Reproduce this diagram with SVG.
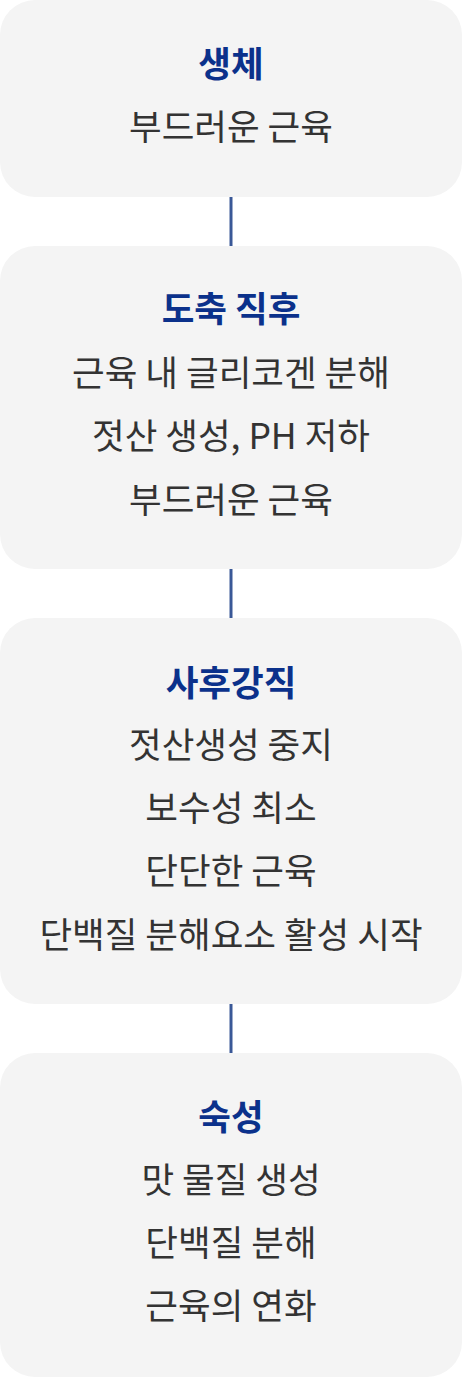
<svg xmlns="http://www.w3.org/2000/svg" width="462" height="1377" viewBox="0 0 462 1377">
<style>
.box{fill:#f4f4f4}
.t{font-family:"Noto Sans CJK KR","Noto Sans",sans-serif;font-size:35.5px;text-anchor:middle}
.h{font-weight:700;fill:#0b318b}
.b{font-weight:400;fill:#333333}
.c{stroke:#3a5897;stroke-width:3;fill:none}
</style>
<rect width="462" height="1377" fill="#ffffff"/>
<g id="connectors">
<line class="c" x1="231" y1="197" x2="231" y2="246"/>
<line class="c" x1="231" y1="569" x2="231" y2="618"/>
<line class="c" x1="231" y1="1004" x2="231" y2="1053"/>
</g>
<g id="node-1">
<rect class="box" x="0" y="0" width="462" height="197" rx="35"/>
<text class="t h" x="231" y="77">생체</text>
<text class="t b" x="231" y="140">부드러운 근육</text>
</g>
<g id="node-2">
<rect class="box" x="0" y="246" width="462" height="323" rx="35"/>
<text class="t h" x="231" y="322">도축 직후</text>
<text class="t b" x="231" y="386">근육 내 글리코겐 분해</text>
<text class="t b" x="231" y="449">젓산 생성, PH 저하</text>
<text class="t b" x="231" y="513">부드러운 근육</text>
</g>
<g id="node-3">
<rect class="box" x="0" y="618" width="462" height="386" rx="35"/>
<text class="t h" x="231" y="696">사후강직</text>
<text class="t b" x="231" y="758">젓산생성 중지</text>
<text class="t b" x="231" y="821">보수성 최소</text>
<text class="t b" x="231" y="884">단단한 근육</text>
<text class="t b" x="231" y="948">단백질 분해요소 활성 시작</text>
</g>
<g id="node-4">
<rect class="box" x="0" y="1053" width="462" height="324" rx="35"/>
<text class="t h" x="231" y="1130">숙성</text>
<text class="t b" x="231" y="1193">맛 물질 생성</text>
<text class="t b" x="231" y="1256">단백질 분해</text>
<text class="t b" x="231" y="1319">근육의 연화</text>
</g>
</svg>
